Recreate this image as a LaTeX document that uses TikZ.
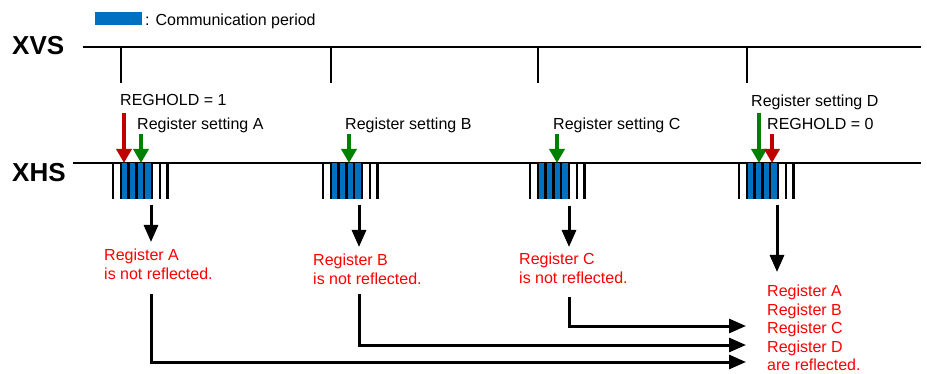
\documentclass[tikz,border=0pt]{standalone}
\usepackage{fontspec}
\setmainfont{Liberation Sans}
\usetikzlibrary{arrows.meta}
\definecolor{commblue}{RGB}{0,112,192}
\definecolor{holdred}{RGB}{192,0,0}
\definecolor{setgreen}{RGB}{0,128,0}
\definecolor{msgred}{RGB}{255,0,0}
\tikzset{node distance=2.0cm, auto,
  signal/.style={line width=2.5pt},
  pulse/.style={line width=2.5pt},
  sig label/.style={font=\bfseries\fontsize{26}{30}\selectfont, anchor=west, inner sep=0pt},
  note/.style={font=\fontsize{16}{18.5}\selectfont, anchor=base west, inner sep=0pt},
  msg/.style={font=\fontsize{16}{18.5}\selectfont, text=msgred, anchor=north west, inner sep=0pt, align=left},
  hold arrow/.style={draw=holdred, line width=4pt, -{Triangle[length=14pt,width=15pt]}, holdred},
  set arrow/.style={draw=setgreen, line width=4pt, -{Triangle[length=14pt,width=15pt]}, setgreen},
  flow/.style={line width=3pt, -{Triangle[length=17pt,width=14pt]}}
}
\begin{document}
\begin{tikzpicture}[x=1pt,y=-1pt]
\useasboundingbox (0,0) rectangle (927,374);
\fill[commblue] (95,12) rectangle (142,25.5);
\node[note] (legend) at (145,25.5) {: Communication period};

\node[sig label] (xvs) at (12,46) {XVS};
\node[sig label] (xhs) at (12,172.5) {XHS};
\coordinate (xvsL) at (83,47);
\coordinate (xvsR) at (921,47);
\coordinate (xhsL) at (73,163);
\coordinate (xhsR) at (921,163);
\draw[signal] (xvsL) -- (xvsR);
\draw[signal] (xhsL) -- (xhsR);

\foreach \n/\s in {A/113,B/323,C/530,D/739} {
  \fill[commblue] (\s+7.8,163) rectangle (\s+39,199);
  \foreach \k in {0,...,7}
    \draw[pulse] (\s+\k*7.8,163) -- ++(0,36);
  \draw[signal] (\s+7.8,47) -- ++(0,36);
}

\node[note] (holdlblA) at (120,106) {REGHOLD = 1};
\node[note] (setlblA) at (137,129.5) {Register setting A};
\node[note] (setlblB) at (345,129.5) {Register setting B};
\node[note] (setlblC) at (553,129.5) {Register setting C};
\node[note] (setlblD) at (751,106.5) {Register setting D};
\node[note] (holdlblD) at (767,130) {REGHOLD = 0};

\coordinate (holdA) at (124,113);
\coordinate (setA) at (141,134);
\coordinate (setB) at (349,134);
\coordinate (setC) at (557,134);
\coordinate (setD) at (759,113);
\coordinate (holdD) at (772,134);
\draw[hold arrow] (holdA) -- (holdA |- xhsL);
\draw[set arrow] (setA) -- (setA |- xhsL);
\draw[set arrow] (setB) -- (setB |- xhsL);
\draw[set arrow] (setC) -- (setC |- xhsL);
\draw[set arrow] (setD) -- (setD |- xhsL);
\draw[hold arrow] (holdD) -- (holdD |- xhsL);

\node[msg] (msgA) at (104,249) {Register A\\is not reflected.};
\node[msg] (msgB) at (313,254) {Register B\\is not reflected.};
\node[msg] (msgC) at (519,253) {Register C\\is not reflected.};
\node[msg] (msgAll) at (767,285) {Register A\\Register B\\Register C\\Register D\\are reflected.};

\coordinate (outA) at (151,205);
\coordinate (outB) at (359,205);
\coordinate (outC) at (569,206);
\coordinate (outD) at (777,205);
\coordinate (tipA) at (151,242);
\coordinate (tipB) at (359,247);
\coordinate (tipC) at (569,247);
\coordinate (tipD) at (777,272);
\draw[flow] (outA) -- (tipA);
\draw[flow] (outB) -- (tipB);
\draw[flow] (outC) -- (tipC);
\draw[flow] (outD) -- (tipD);

\coordinate (backA) at (151,294);
\coordinate (backB) at (359,294);
\coordinate (backC) at (569,297);
\coordinate (inA) at (746,362);
\coordinate (inB) at (746,345);
\coordinate (inC) at (746,326);
\draw[flow] (backA) |- (inA);
\draw[flow] (backB) |- (inB);
\draw[flow] (backC) |- (inC);
\end{tikzpicture}
\end{document}
